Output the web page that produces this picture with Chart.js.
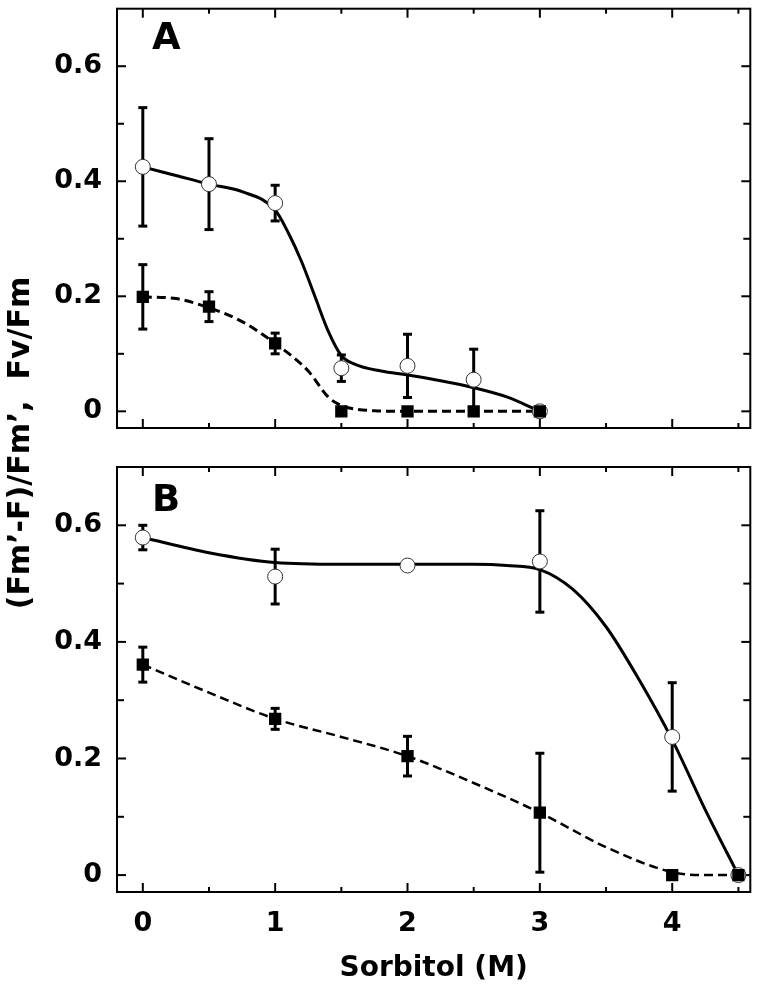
<!DOCTYPE html>
<html>
<head>
<meta charset="utf-8">
<title>Sorbitol</title>
<script src="https://cdn.jsdelivr.net/npm/chart.js@4.4.1/dist/chart.umd.min.js"></script>
<style>
  html, body { margin: 0; padding: 0; background: #fff; }
  #wrap { position: relative; width: 759px; height: 993px; }
  #wrap canvas { position: absolute; left: 0; top: 0; }
</style>
</head>
<body>
<div id="wrap">
  <canvas id="chartA" width="759" height="993"></canvas>
  <canvas id="chartB" width="759" height="993"></canvas>
</div>
<script>
// panel A, sorbitol 0 - 3 M
const sorbA = [0, 0.5, 1, 1.5, 2, 2.5, 3];
const openA = [0.425, 0.395, 0.362, 0.075, 0.079, 0.055, 0];
const openErrA = [0.103, 0.079, 0.031, 0.023, 0.055, 0.053, 0];
const fillA = [0.199, 0.182, 0.118, 0, 0, 0, 0];
const fillErrA = [0.056, 0.026, 0.018, 0, 0, 0, 0];
// fitted curves
const fitOpenAx = [0, 0.25, 0.5, 0.75, 1, 1.1, 1.2, 1.3, 1.4, 1.5, 1.6, 1.8, 2, 2.25, 2.5, 2.75, 3];
const fitOpenAy = [0.425, 0.41, 0.395, 0.382, 0.35, 0.31, 0.26, 0.2, 0.14, 0.097, 0.082, 0.07, 0.063, 0.053, 0.041, 0.025, 0];
const fitFillAx = [0, 0.25, 0.5, 0.75, 1, 1.25, 1.4, 1.5, 1.6, 1.75, 2, 2.5, 3];
const fitFillAy = [0.199, 0.196, 0.18, 0.156, 0.118, 0.07, 0.025, 0.01, 0.004, 0.001, 0, 0, 0];

// panel B, sorbitol 0 - 4.5 M
const sorbB = [0, 1, 2, 3, 4, 4.5];
const openB = [0.579, 0.512, 0.531, 0.538, 0.237, 0];
const openErrB = [0.021, 0.047, 0, 0.087, 0.093, 0];
const fillB = [0.361, 0.268, 0.204, 0.107, 0, 0];
const fillErrB = [0.03, 0.018, 0.034, 0.102, 0, 0];
const fitOpenBx = [0, 0.5, 1, 1.5, 2, 2.5, 2.75, 3, 3.25, 3.5, 3.75, 4, 4.25, 4.5];
const fitOpenBy = [0.579, 0.553, 0.536, 0.533, 0.533, 0.533, 0.531, 0.524, 0.49, 0.426, 0.335, 0.232, 0.112, 0];
const fitFillBx = [0, 0.5, 1, 1.5, 2, 2.5, 3, 3.5, 4, 4.25, 4.5];
const fitFillBy = [0.361, 0.313, 0.268, 0.237, 0.204, 0.158, 0.107, 0.048, 0.005, 0, 0];

// axes
const xLabelVals = [0, 1, 2, 3, 4];
const xMinorVals = [0.5, 1.5, 2.5, 3.5, 4.5];
const yLabelVals = [0, 0.2, 0.4, 0.6];
const yMinorVals = [0.1, 0.3, 0.5];
const xTitle = 'Sorbitol (M)';
const yTitle = '(Fm\u2019-F)/Fm\u2019,  Fv/Fm';

const font = { family: 'DejaVu Sans', weight: 'bold', size: 27 };

function pts(xs, ys) {
  return xs.map((x, i) => ({ x: x, y: ys[i] }));
}

function datasets(xs, open, openErr, fill, fillErr, fitO, fitF, dashW) {
  return [
    { data: pts(xs, fill), errors: fillErr, pointStyle: 'rect', pointRadius: 8.7,
      pointBackgroundColor: '#000', pointBorderWidth: 0, showLine: false, order: 1 },
    { data: pts(xs, open), errors: openErr, pointStyle: 'circle', pointRadius: 7.5,
      pointBackgroundColor: '#fff', pointBorderColor: '#333', pointBorderWidth: 1, showLine: false, order: 2 },
    { data: fitO, showLine: true, pointRadius: 0, borderColor: '#000', borderWidth: 3,
      cubicInterpolationMode: 'monotone', order: 3 },
    { data: fitF, showLine: true, pointRadius: 0, borderColor: '#000', borderWidth: dashW,
      borderDash: [9, 5], cubicInterpolationMode: 'monotone', order: 3 }
  ];
}

// frame, inner ticks, error bars, panel letter
const panelPlugin = {
  id: 'panel',
  beforeDatasetsDraw(chart, args, opts) {
    const { ctx, chartArea: a, scales: { x, y } } = chart;
    ctx.save();
    ctx.strokeStyle = '#000';
    ctx.lineWidth = 2;
    ctx.strokeRect(a.left, a.top, a.right - a.left, a.bottom - a.top);
    const seg = (x1, y1, x2, y2) => { ctx.beginPath(); ctx.moveTo(x1, y1); ctx.lineTo(x2, y2); ctx.stroke(); };
    xLabelVals.forEach(v => { const p = x.getPixelForValue(v); seg(p, a.bottom, p, a.bottom - 9); seg(p, a.top, p, a.top + 9); });
    xMinorVals.forEach(v => { const p = x.getPixelForValue(v); seg(p, a.bottom, p, a.bottom - 5); seg(p, a.top, p, a.top + 5); });
    yLabelVals.forEach(v => { const p = y.getPixelForValue(v); seg(a.left, p, a.left + 9, p); seg(a.right, p, a.right - 9, p); });
    yMinorVals.forEach(v => { const p = y.getPixelForValue(v); seg(a.left, p, a.left + 7, p); seg(a.right, p, a.right - 7, p); });

    // error bars
    ctx.lineWidth = 3;
    chart.data.datasets.forEach(ds => {
      if (!ds.errors) return;
      ds.data.forEach((pt, i) => {
        const e = ds.errors[i];
        if (!e) return;
        const px = x.getPixelForValue(pt.x);
        const top = y.getPixelForValue(pt.y + e);
        const bot = y.getPixelForValue(pt.y - e);
        seg(px, top, px, bot);
        seg(px - 4.5, top, px + 4.5, top);
        seg(px - 4.5, bot, px + 4.5, bot);
      });
    });

    ctx.fillStyle = '#000';
    ctx.font = 'bold 37px "DejaVu Sans"';
    ctx.textAlign = 'left';
    ctx.textBaseline = 'alphabetic';
    ctx.fillText(opts.letter, a.left + 35, a.top + opts.letterDy);

    if (opts.yTitle) {
      ctx.translate(21, 443);
      ctx.rotate(-Math.PI / 2);
      ctx.font = 'bold 30px "DejaVu Sans"';
      ctx.textAlign = 'center';
      ctx.textBaseline = 'middle';
      ctx.fillText(yTitle, 0, 0);
    }
    ctx.restore();
  }
};

function yScale() {
  return {
    min: -0.029, max: 0.70,
    afterBuildTicks: s => { s.ticks = yLabelVals.map(v => ({ value: v })); },
    afterFit: s => { s.width = 117; s.paddingTop = 0; s.paddingBottom = 0; },
    grid: { display: false, drawTicks: false },
    border: { display: false },
    ticks: { padding: 15, color: '#000', font: font, callback: v => v === 0 ? '0' : v.toFixed(1) }
  };
}

const common = {
  responsive: false,
  animation: false,
  devicePixelRatio: 1,
  events: [],
  plugins: { legend: { display: false }, tooltip: { enabled: false } }
};

new Chart(document.getElementById('chartA'), {
  type: 'scatter',
  data: { datasets: datasets(sorbA, openA, openErrA, fillA, fillErrA,
    pts(fitOpenAx, fitOpenAy), pts(fitFillAx, fitFillAy), 3) },
  options: Object.assign({}, common, {
    layout: { padding: { left: 0, top: 3, right: 4, bottom: 565 } },
    plugins: Object.assign({}, common.plugins, { panel: { letter: 'A', letterDy: 40, yTitle: true } }),
    scales: {
      x: { type: 'linear', display: false, min: -0.195, max: 4.59 },
      y: yScale()
    }
  }),
  plugins: [panelPlugin]
});

new Chart(document.getElementById('chartB'), {
  type: 'scatter',
  data: { datasets: datasets(sorbB, openB, openErrB, fillB, fillErrB,
    pts(fitOpenBx, fitOpenBy), pts(fitFillBx, fitFillBy), 2.5) },
  options: Object.assign({}, common, {
    layout: { padding: { left: 0, top: 467, right: 4, bottom: 0 } },
    plugins: Object.assign({}, common.plugins, { panel: { letter: 'B', letterDy: 44, yTitle: false } }),
    scales: {
      x: {
        type: 'linear', min: -0.195, max: 4.59,
        afterBuildTicks: s => { s.ticks = xLabelVals.map(v => ({ value: v })); },
        afterFit: s => { s.height = 101; },
        grid: { display: false, drawTicks: false },
        border: { display: false },
        ticks: { padding: 16, color: '#000', font: font, maxRotation: 0, autoSkip: false, callback: v => String(v) },
        title: { display: true, text: xTitle, color: '#000', font: Object.assign({}, font, { size: 28 }), padding: { top: 0, bottom: 7 } }
      },
      y: yScale()
    }
  }),
  plugins: [panelPlugin]
});
</script>
</body>
</html>
